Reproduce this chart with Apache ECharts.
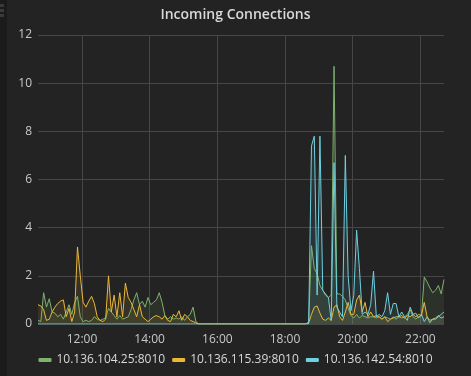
<!DOCTYPE html>
<html>
<head>
<meta charset="utf-8">
<script src="https://cdn.jsdelivr.net/npm/echarts@6/dist/echarts.min.js"></script>
<style>
    html, body { margin: 0; padding: 0; background: #232323; }
    #chart { width: 471px; height: 376px; }
</style>
</head>
<body>
<div id="chart"></div>
<script>
// 时间轴 (小时), 每5分钟一个点
var startHour = 10.7;
var stepHour = 5 / 60;
var tickHours = [12, 14, 16, 18, 20, 22];
var seriesNames = ['10.136.104.25:8010', '10.136.115.39:8010', '10.136.142.54:8010'];
var seriesColors = ['#7EB26D', '#EAB839', '#6ED0E0'];

var conn104 = [
    0.15, 0.1, 1.3, 0.7, 1.05, 0.5, 0.45, 0.3, 0.4, 0.2,
    0.5, 0.8, 0.4, 0.9, 1.15, 0.3, 0.1, 0.15, 0.1, 0.15,
    0.3, 0.2, 0.15, 0.2, 0.25, 0.65, 0.5, 0.35, 0.2, 0.35,
    0.2, 0.25, 0.3, 0.6, 1.0, 1.3, 0.8, 0.95, 0.7, 1.1,
    0.8, 0.9, 1.0, 1.3, 0.9, 0.35, 0.2, 0.3, 0.2, 0.25,
    0.2, 0.3, 0.15, 0.3, 0.4, 0.7, 0.1, 0, 0, 0,
    0, 0, 0, 0, 0, 0, 0, 0, 0, 0,
    0, 0, 0, 0, 0, 0, 0, 0, 0, 0,
    0, 0, 0, 0, 0, 0, 0, 0, 0, 0,
    0, 0, 0, 0, 0, 0, 0.1, 3.25, 2.3, 2.1,
    1.6, 1.4, 1.25, 1.1, 1.2, 10.7, 1.25, 1.25, 1.15, 1.0,
    0.65, 0.35, 0.25, 0.4, 0.25, 0.35, 0.3, 0.25, 0.3, 0.3,
    0.25, 0.3, 0.2, 0.3, 0.25, 0.2, 0.3, 0.2, 0.3, 0.25,
    0.3, 0.4, 0.6, 0.3, 0.2, 0.3, 0.35, 1.95, 1.75, 1.5,
    1.3, 1.4, 1.6, 1.25, 1.85
];
var conn115 = [
    0.8, 0.75, 0.6, 0.15, 0.2, 0.5, 0.7, 0.85, 0.95, 1.0,
    0.3, 0.65, 0.1, 0.5, 3.2, 2.0, 0.9, 0.7, 0.95, 1.15,
    0.85, 0.3, 0.15, 0.1, 0.2, 2.0, 0.5, 1.2, 0.3, 1.3,
    0.3, 1.7, 1.1, 0.9, 0.6, 0.3, 0.8, 0.3, 0.2, 0.1,
    0.2, 0.3, 0.35, 0.3, 0.2, 0.35, 0.15, 0.1, 0.4, 0.3,
    0.55, 0.15, 0.4, 0.3, 0.15, 0.1, 0.05, 0, 0, 0,
    0, 0, 0, 0, 0, 0, 0, 0, 0, 0,
    0, 0, 0, 0, 0, 0, 0, 0, 0, 0,
    0, 0, 0, 0, 0, 0, 0, 0, 0, 0,
    0, 0, 0, 0, 0, 0, 0.05, 0.4, 0.7, 0.75,
    0.45, 0.2, 0.15, 0.25, 0.15, 0.7, 0.8, 0.3, 0.15, 0.5,
    0.9, 0.4, 0.4, 1.0, 1.2, 0.5, 0.9, 0.3, 0.5, 0.3,
    0.35, 0.3, 0.2, 0.3, 0.1, 0.2, 0.25, 0.3, 0.3, 0.35,
    0.25, 0.35, 0.3, 0.4, 0.3, 0.4, 0.35, 0.9, 0.3, 0.15,
    0.2, 0.25, 0.35, 0.25, 0.3
];
var conn142 = [
    0, 0, 0, 0, 0, 0, 0, 0, 0, 0,
    0, 0, 0, 0, 0, 0, 0, 0, 0, 0,
    0, 0, 0, 0, 0, 0, 0, 0, 0, 0,
    0, 0, 0, 0, 0, 0, 0, 0, 0, 0,
    0, 0, 0, 0, 0, 0, 0, 0, 0, 0,
    0, 0, 0, 0, 0, 0, 0, 0, 0, 0,
    0, 0, 0, 0, 0, 0, 0, 0, 0, 0,
    0, 0, 0, 0, 0, 0, 0, 0, 0, 0,
    0, 0, 0, 0, 0, 0, 0, 0, 0, 0,
    0, 0, 0, 0, 0, 0, 0, 7.4, 7.8, 1.2,
    7.8, 1.4, 1.2, 1.1, 0.15, 6.7, 0.7, 0.5, 0.3, 7.0,
    2.0, 0.55, 1.2, 3.9, 2.3, 0.4, 0.5, 0.4, 0.8, 2.2,
    0.3, 0.4, 0.3, 0.55, 1.3, 0.4, 0.85, 0.85, 0.3, 0.5,
    0.3, 0.15, 0.7, 0.4, 0.45, 0.25, 0.4, 0.1, 0.3, 0.05,
    0.2, 0.2, 0.3, 0.4, 0.5
];

function pairs(values) {
    var out = [];
    for (var i = 0; i < values.length; i++) {
        out.push([startHour + i * stepHour, values[i]]);
    }
    return out;
}

function hourLabel(v) {
    var h = Math.round(v);
    return (h < 10 ? '0' : '') + h + ':00';
}

var allValues = [conn104, conn115, conn142];
var series = [];
for (var s = 0; s < allValues.length; s++) {
    series.push({
        name: seriesNames[s],
        type: 'line',
        data: pairs(allValues[s]),
        showSymbol: false,
        lineStyle: { width: 1, color: seriesColors[s] },
        itemStyle: { color: seriesColors[s] },
        areaStyle: { color: seriesColors[s], opacity: 0.1 },
        emphasis: { disabled: true }
    });
}

var myChart = echarts.init(document.getElementById('chart'));
var option = {
    backgroundColor: '#232323',
    animation: false,
    textStyle: { fontFamily: 'Open Sans' },
    title: {
        text: 'Incoming Connections',
        left: 'center',
        top: 3,
        textStyle: { color: '#d8d9da', fontSize: 14, fontWeight: 600, fontFamily: 'Open Sans' }
    },
    legend: {
        bottom: 5,
        left: 'center',
        icon: 'roundRect',
        itemWidth: 13,
        itemHeight: 4,
        itemGap: 7,
        textStyle: { color: '#d8d9da', fontSize: 12, fontFamily: 'Open Sans' },
        data: seriesNames
    },
    grid: { left: 38, right: 27, top: 35, bottom: 52 },
    xAxis: {
        type: 'value',
        min: startHour,
        max: startHour + 12,
        axisLine: { show: false },
        axisTick: { show: false, customValues: tickHours },
        axisLabel: {
            color: '#c7c8c9',
            fontSize: 12,
            margin: 10,
            customValues: tickHours,
            formatter: hourLabel
        },
        splitLine: { show: true, lineStyle: { color: '#464646', width: 1 } }
    },
    yAxis: {
        type: 'value',
        min: 0,
        max: 12,
        interval: 2,
        axisLine: { show: false },
        axisTick: { show: false },
        axisLabel: { color: '#c7c8c9', fontSize: 12, margin: 6 },
        splitLine: { lineStyle: { color: '#464646', width: 1 } }
    },
    graphic: [
        { type: 'rect', shape: { x: 0, y: 0, width: 7, height: 376 }, style: { fill: '#1b1b1b' }, silent: true },
        { type: 'rect', shape: { x: 0, y: 4, width: 4, height: 3 }, style: { fill: '#3a3a3a' }, silent: true },
        { type: 'rect', shape: { x: 0, y: 9, width: 4, height: 3 }, style: { fill: '#3a3a3a' }, silent: true },
        { type: 'rect', shape: { x: 0, y: 14, width: 4, height: 3 }, style: { fill: '#3a3a3a' }, silent: true }
    ],
    series: series
};
myChart.setOption(option);
</script>
</body>
</html>
